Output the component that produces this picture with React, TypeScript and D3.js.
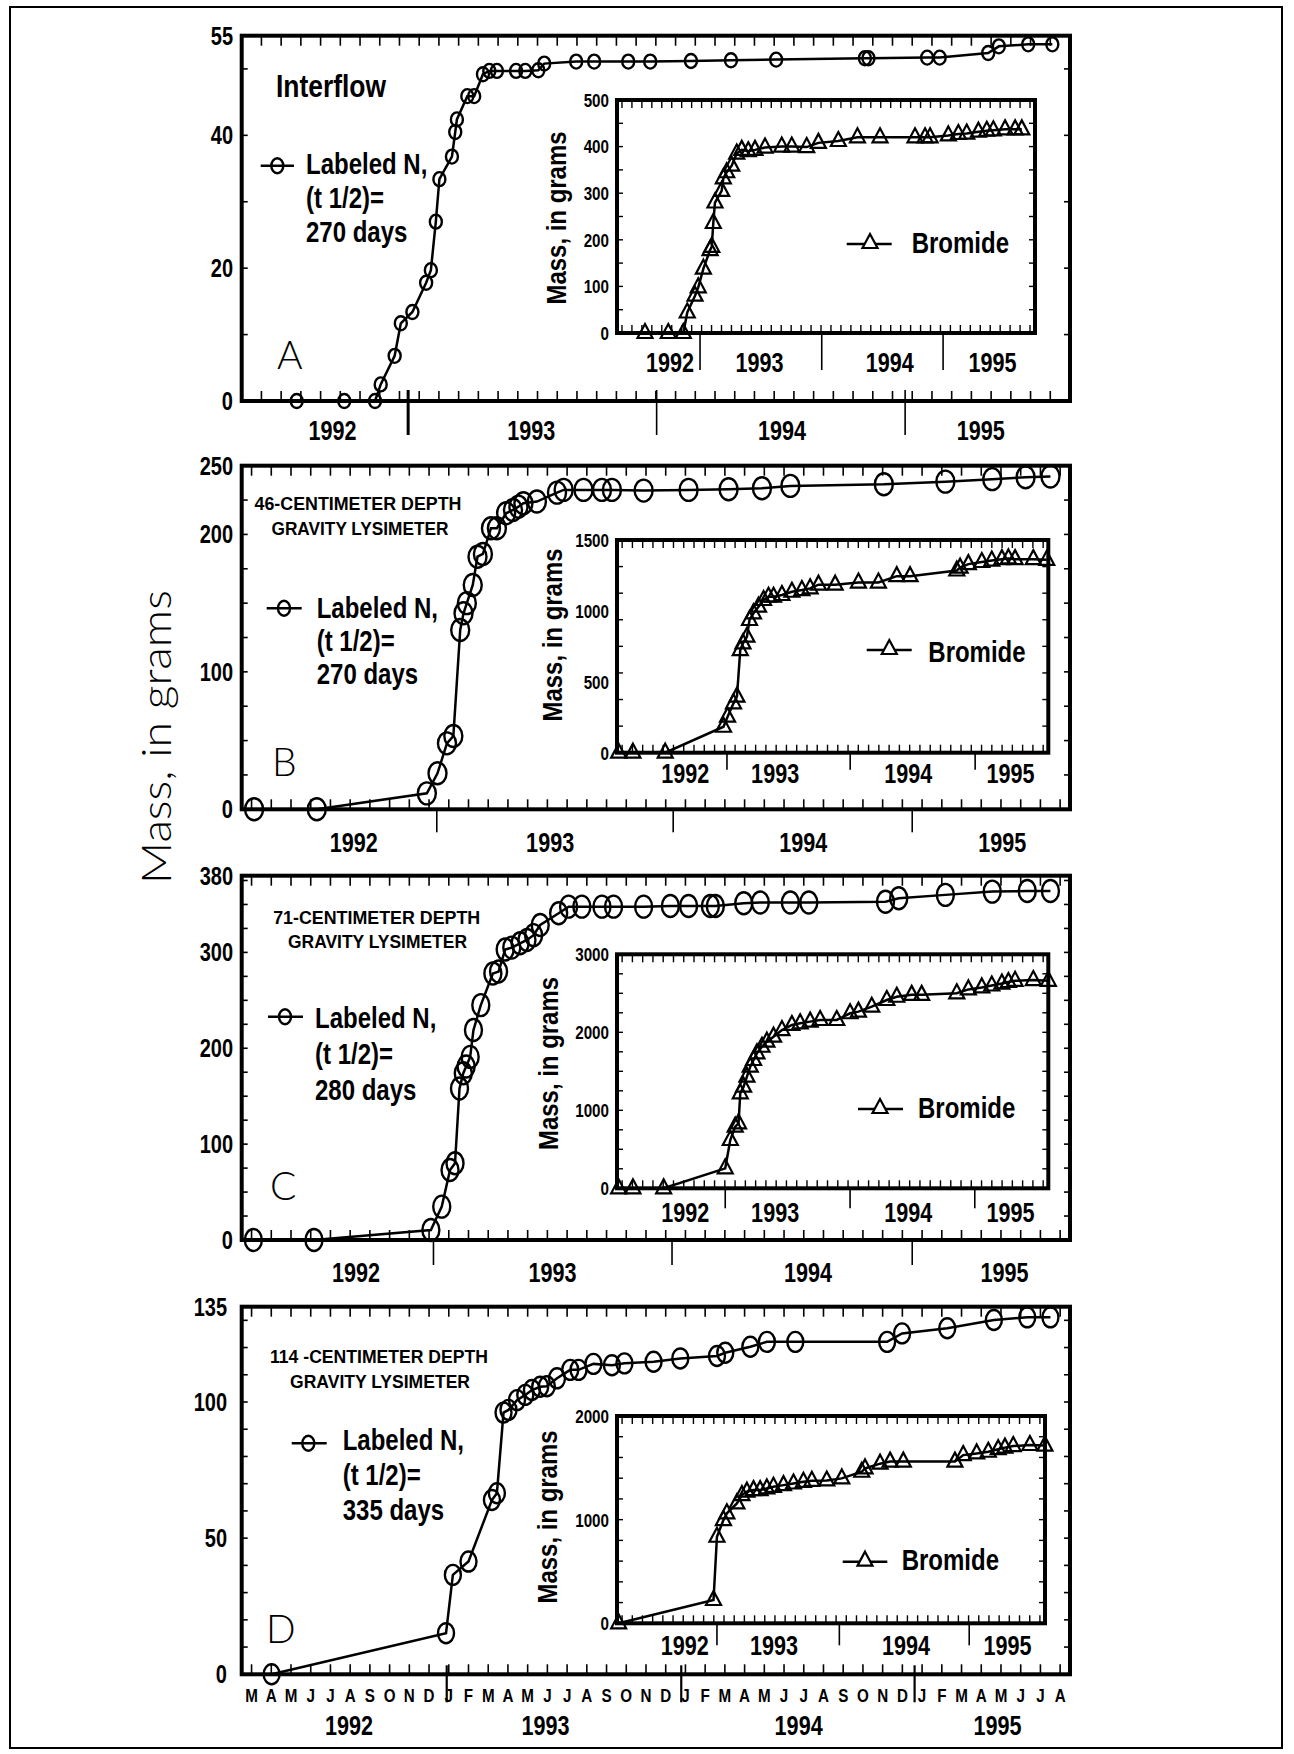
import React from "react"
import * as d3 from "d3"

// month initials along the bottom of panel D (Mar 1992 - Aug 1995)
const MONTH_LABELS = [
  "M", "A", "M", "J", "J", "A", "S", "O", "N", "D",
  "J", "F", "M", "A", "M", "J", "J", "A", "S", "O", "N", "D",
  "J", "F", "M", "A", "M", "J", "J", "A", "S", "O", "N", "D",
  "J", "F", "M", "A", "M", "J", "J", "A"
]
const YEAR_LABELS = ["1992", "1993", "1994", "1995"]

// [decimal year, grams]  -- labeled nitrogen (main plots)
const interflowN: [number, number][] = [
  [1992.399, 0], [1992.60, 0], [1992.73, 0], [1992.754, 2.5], [1992.813, 6.8], [1992.839, 11.7],
  [1992.888, 13.4], [1992.946, 17.8], [1992.966, 19.7], [1992.987, 27], [1993.002, 33.4],
  [1993.055, 36.8], [1993.069, 40.5], [1993.076, 42.4], [1993.12, 45.9], [1993.149, 45.9],
  [1993.186, 49.2], [1993.213, 49.7], [1993.245, 49.7], [1993.326, 49.7], [1993.365, 49.7],
  [1993.42, 49.8], [1993.445, 50.8], [1993.58, 51.1], [1993.656, 51.1], [1993.80, 51.1],
  [1993.893, 51.1], [1994.065, 51.2], [1994.234, 51.3], [1994.425, 51.4], [1994.80, 51.6],
  [1994.815, 51.6], [1995.063, 51.7], [1995.116, 51.7], [1995.321, 52.4], [1995.366, 53.4],
  [1995.49, 53.7], [1995.592, 53.7]
]
const lys46N: [number, number][] = [
  [1992.219, 0], [1992.484, 0], [1992.949, 11.6], [1992.994, 26.2], [1993.034, 48], [1993.061, 53.3],
  [1993.09, 130.5], [1993.104, 142.6], [1993.118, 150], [1993.143, 163.2], [1993.163, 183.8],
  [1993.186, 185.8], [1993.22, 204.5], [1993.245, 204.5], [1993.284, 215.4], [1993.313, 217.8],
  [1993.336, 220.2], [1993.357, 222.7], [1993.414, 223.9], [1993.499, 230.4], [1993.527, 232.4],
  [1993.611, 232.4], [1993.689, 232.4], [1993.731, 232.4], [1993.865, 231.9], [1994.055, 232.4],
  [1994.224, 232.9], [1994.365, 233.6], [1994.485, 235.3], [1994.88, 236.5], [1995.14, 238.4],
  [1995.338, 240.2], [1995.479, 241.6], [1995.584, 242.1]
]
const lys71N: [number, number][] = [
  [1992.216, 0], [1992.472, 0], [1992.966, 10.4], [1993.012, 34.8], [1993.047, 73], [1993.068, 80],
  [1993.087, 158], [1993.103, 174], [1993.115, 181], [1993.132, 191], [1993.146, 219],
  [1993.177, 245], [1993.228, 278], [1993.252, 280], [1993.28, 303], [1993.308, 305],
  [1993.343, 309.5], [1993.372, 313], [1993.4, 318], [1993.428, 328.6], [1993.506, 340.8],
  [1993.548, 347.7], [1993.604, 347.7], [1993.689, 347.7], [1993.738, 347.7], [1993.865, 347.7],
  [1993.978, 348.4], [1994.055, 348.4], [1994.147, 348.4], [1994.168, 348.4], [1994.288, 351.2],
  [1994.358, 352], [1994.485, 352], [1994.563, 352], [1994.887, 352.9], [1994.943, 356.4],
  [1995.14, 360], [1995.338, 363.4], [1995.486, 364], [1995.584, 364]
]
const lys114N: [number, number][] = [
  [1992.293, 0], [1993.03, 15.1], [1993.059, 36.5], [1993.125, 41.4], [1993.224, 64], [1993.245, 66.5],
  [1993.273, 96.1], [1993.294, 97.1], [1993.33, 100.7], [1993.365, 102.6], [1993.393, 104.4],
  [1993.428, 105.6], [1993.456, 105.8], [1993.499, 108.7], [1993.555, 111.8], [1993.59, 111.8],
  [1993.653, 114], [1993.731, 113.5], [1993.784, 114.2], [1993.907, 114.8], [1994.02, 116],
  [1994.175, 116.9], [1994.21, 118.1], [1994.316, 120.3], [1994.386, 122.1], [1994.506, 122.1],
  [1994.894, 122.1], [1994.957, 125.2], [1995.148, 127.1], [1995.345, 130.1], [1995.486, 131.1],
  [1995.584, 131.1]
]

// [decimal year, grams]  -- bromide (insets)
const interflowBr: [number, number][] = [
  [1992.401, 0], [1992.596, 0], [1992.722, 0], [1992.755, 44], [1992.82, 80], [1992.847, 98],
  [1992.89, 138], [1992.946, 178], [1992.96, 185], [1992.973, 236], [1992.987, 280], [1993.043, 305],
  [1993.057, 332], [1993.085, 345], [1993.127, 359], [1993.169, 385], [1993.211, 393], [1993.266, 390],
  [1993.322, 393], [1993.406, 398], [1993.546, 400], [1993.63, 400], [1993.755, 399], [1993.853, 408],
  [1994.02, 412], [1994.18, 420], [1994.369, 420], [1994.662, 420], [1994.746, 420], [1994.788, 420],
  [1994.941, 424], [1995.025, 427], [1995.095, 428], [1995.193, 432], [1995.263, 434], [1995.318, 435],
  [1995.416, 437], [1995.5, 437], [1995.556, 437]
]
const lys46Br: [number, number][] = [
  [1992.18, 0], [1992.296, 0], [1992.558, 0], [1993.031, 183], [1993.064, 254], [1993.112, 348],
  [1993.14, 395], [1993.167, 724], [1993.189, 771], [1993.221, 818], [1993.242, 936], [1993.274, 983],
  [1993.315, 1030], [1993.356, 1077], [1993.396, 1100], [1993.437, 1100], [1993.505, 1112],
  [1993.586, 1135], [1993.667, 1147], [1993.734, 1159], [1993.802, 1185], [1993.937, 1185],
  [1994.126, 1200], [1994.288, 1200], [1994.437, 1245], [1994.545, 1245], [1994.924, 1285],
  [1994.951, 1305], [1995.018, 1330], [1995.127, 1345], [1995.208, 1355], [1995.29, 1365],
  [1995.343, 1370], [1995.397, 1365], [1995.545, 1365], [1995.654, 1360]
]
const lys71Br: [number, number][] = [
  [1992.18, 0], [1992.296, 0], [1992.545, 0], [1993.045, 256], [1993.086, 619], [1993.126, 790],
  [1993.153, 833], [1993.167, 1218], [1993.194, 1303], [1993.221, 1431], [1993.248, 1559],
  [1993.275, 1645], [1993.302, 1731], [1993.343, 1815], [1993.383, 1880], [1993.437, 1944],
  [1993.505, 2029], [1993.586, 2094], [1993.653, 2115], [1993.734, 2137], [1993.815, 2158],
  [1993.95, 2158], [1994.058, 2244], [1994.126, 2265], [1994.234, 2328], [1994.356, 2414],
  [1994.437, 2456], [1994.558, 2480], [1994.639, 2480], [1994.924, 2500], [1995.018, 2550],
  [1995.127, 2575], [1995.208, 2600], [1995.29, 2625], [1995.343, 2645], [1995.397, 2660],
  [1995.545, 2670], [1995.667, 2660]
]
const lys114Br: [number, number][] = [
  [1992.18, 0], [1992.956, 225], [1992.984, 835], [1993.037, 996], [1993.065, 1061], [1993.147, 1157],
  [1993.188, 1237], [1993.229, 1270], [1993.283, 1285], [1993.337, 1285], [1993.392, 1301],
  [1993.446, 1317], [1993.528, 1333], [1993.61, 1349], [1993.691, 1365], [1993.76, 1375],
  [1993.882, 1378], [1994.005, 1398], [1994.168, 1462], [1994.195, 1494], [1994.318, 1540],
  [1994.4, 1560], [1994.508, 1560], [1994.93, 1560], [1994.998, 1623], [1995.108, 1639],
  [1995.203, 1655], [1995.284, 1680], [1995.339, 1695], [1995.407, 1710], [1995.543, 1720],
  [1995.666, 1715]
]

const yTicksA = [0, 20, 40, 55]
const yTicksB = [0, 100, 200, 250]
const yTicksC = [0, 100, 200, 300, 380]
const yTicksD = [0, 50, 100, 135]
const insetTicksA = [0, 100, 200, 300, 400, 500]
const insetTicksB = [0, 500, 1000, 1500]
const insetTicksC = [0, 1000, 2000, 3000]
const insetTicksD = [0, 1000, 2000]

const BOLD = "'Liberation Sans', Arial, Helvetica, sans-serif"
const THIN = "Lato, 'Open Sans', sans-serif"

const X0 = 1992 + 2 / 12
const X1 = 1995 + 8 / 12
const XL = 241.7
const XR = 1070
const INSET_L = 617

const legendLines = (days: string) => ["Labeled N,", "(t 1/2)=", days]

// condensed bold text: squeeze horizontally around its anchor point
function NT({ x, y, size, anchor = "start", dy, children }: any) {
  return (
    <text transform={`translate(${x},${y}) scale(0.8,1)`} textAnchor={anchor} dy={dy}
      fontFamily={BOLD} fontWeight="bold" fontSize={size}>{children}</text>
  )
}

const PANELS = [
  {
    N: interflowN, Br: interflowBr, top: 35.7, bottom: 401, yMax: 55, yTicks: yTicksA, yStep: 10,
    tickX: 233, mr: [6, 7], monthShift: 0, seps: [1992.87, 1993.92, 1994.97], sepW: [3, 1.6, 1.6],
    sepSpan: [-11, 34], years: [1992.55, 1993.39, 1994.45, 1995.29], yearY: 440,
    letter: { t: "A", x: 277, y: 369 },
    heading: [{ t: "Interflow", x: 276, y: 97, size: 32, anchor: "start", len: 110 }],
    legend: { x1: 260.7, x2: 294, cx: 277.3, y: 165.7, tx: 306, lines: legendLines("270 days"), base: [174, 208, 242] },
    inset: {
      right: 1035, top: 100, bottom: 333, yMax: 500, yTicks: insetTicksA, yStep: 50,
      seps: [1992.862, 1993.881, 1994.897], sepLen: 37, years: [1992.61, 1993.36, 1994.45, 1995.31], yearY: 372,
      ylabX: 566, ylabY: 218, legend: { x1: 846.7, x2: 891.7, cx: 870, y: 244, tx: 911.7, ty: 253 }
    }
  },
  {
    N: lys46N, Br: lys46Br, top: 465.7, bottom: 809.3, yMax: 250, yTicks: yTicksB, yStep: 25,
    tickX: 233, mr: [9, 11], monthShift: 0.5, seps: [1992.991, 1993.99, 1995.0], sepW: [1.6, 1.6, 1.6],
    sepSpan: [0, 23], years: [1992.64, 1993.47, 1994.54, 1995.38], yearY: 852,
    letter: { t: "B", x: 272, y: 776 },
    heading: [
      { t: "46-CENTIMETER DEPTH", x: 358, y: 510, size: 19, anchor: "middle", len: 207 },
      { t: "GRAVITY LYSIMETER", x: 360, y: 535, size: 19, anchor: "middle", len: 177 }
    ],
    legend: { x1: 266.7, x2: 301.7, cx: 284, y: 608.3, tx: 316.7, lines: legendLines("270 days"), base: [618, 651, 684] },
    inset: {
      right: 1048.3, top: 540, bottom: 752.7, yMax: 1500, yTicks: insetTicksB, yStep: 187.5,
      seps: [1993.059, 1994.059, 1995.073], sepLen: 17, years: [1992.72, 1993.45, 1994.53, 1995.36], yearY: 783,
      ylabX: 561.5, ylabY: 635, legend: { x1: 866.7, x2: 911.7, cx: 889.3, y: 650, tx: 928.3, ty: 661.7 }
    }
  },
  {
    N: lys71N, Br: lys71Br, top: 875.7, bottom: 1240, yMax: 380, yTicks: yTicksC, yStep: 25,
    tickX: 233, mr: [8.5, 11], monthShift: 0.5, seps: [1992.977, 1993.985, 1995.0], sepW: [1.6, 1.6, 1.6],
    sepSpan: [0, 25], years: [1992.65, 1993.48, 1994.56, 1995.39], yearY: 1282,
    letter: { t: "C", x: 270, y: 1200 },
    heading: [
      { t: "71-CENTIMETER DEPTH", x: 376.7, y: 924, size: 19, anchor: "middle", len: 207 },
      { t: "GRAVITY LYSIMETER", x: 377.5, y: 948.3, size: 19, anchor: "middle", len: 179 }
    ],
    legend: { x1: 268, x2: 303, cx: 285, y: 1016.7, tx: 315, lines: legendLines("280 days"), base: [1028, 1064, 1100] },
    inset: {
      right: 1048.3, top: 954.3, bottom: 1188.3, yMax: 3000, yTicks: insetTicksC, yStep: 250,
      seps: [1993.045, 1994.058, 1995.07], sepLen: 20, years: [1992.72, 1993.45, 1994.53, 1995.36], yearY: 1222,
      ylabX: 558, ylabY: 1063.5, legend: { x1: 858, x2: 903, cx: 880, y: 1109, tx: 918, ty: 1118.3 }
    }
  },
  {
    N: lys114N, Br: lys114Br, top: 1306.7, bottom: 1674.3, yMax: 135, yTicks: yTicksD, yStep: 10,
    tickX: 227, mr: [8, 10], monthShift: 0.5, seps: [1993.033, 1994.024, 1995.01], sepW: [2.2, 2.2, 2.2],
    sepSpan: [-9, 28], years: [1992.62, 1993.45, 1994.52, 1995.36], yearY: 1735,
    letter: { t: "D", x: 266, y: 1643 },
    heading: [
      { t: "114 -CENTIMETER DEPTH", x: 379, y: 1363, size: 19, anchor: "middle", len: 218 },
      { t: "GRAVITY LYSIMETER", x: 380, y: 1388, size: 19, anchor: "middle", len: 180 }
    ],
    legend: { x1: 291.7, x2: 326.7, cx: 308.3, y: 1443.3, tx: 342.7, lines: legendLines("335 days"), base: [1450, 1485, 1520] },
    inset: {
      right: 1045, top: 1416, bottom: 1623.3, yMax: 2000, yTicks: insetTicksD, yStep: 200,
      seps: [1992.984, 1993.985, 1995.047], sepLen: 22, years: [1992.72, 1993.45, 1994.53, 1995.36], yearY: 1655,
      ylabX: 556.7, ylabY: 1517, legend: { x1: 842.7, x2: 887.3, cx: 865, y: 1561.7, tx: 901.7, ty: 1570 }
    },
    months: true
  }
]

const tri = (cx: number, cy: number) => `M${cx},${cy - 9}L${cx + 7.5},${cy + 5}L${cx - 7.5},${cy + 5}Z`

function Panel({ p }: { p: any }) {
  const x = d3.scaleLinear().domain([X0, X1]).range([XL, XR])
  const y = d3.scaleLinear().domain([0, p.yMax]).range([p.bottom, p.top])
  const ins = p.inset
  const xi = d3.scaleLinear().domain([X0, X1]).range([INSET_L, ins.right])
  const yi = d3.scaleLinear().domain([0, ins.yMax]).range([ins.bottom, ins.top])
  const lineMain = d3.line<[number, number]>().x(d => x(d[0])).y(d => y(d[1]))
  const lineIns = d3.line<[number, number]>().x(d => xi(d[0])).y(d => yi(d[1]))

  const monthTicks = p.monthShift === 0
    ? d3.range(1, 42).map(i => X0 + i / 12)
    : d3.range(42).map(i => X0 + (i + 0.5) / 12)
  const insetMonths = d3.range(42).map(i => X0 + (i + 0.5) / 12)
  const minor = d3.range(0, p.yMax + 0.01, p.yStep)
  const insMinor = d3.range(0, ins.yMax + 0.01, ins.yStep)

  return (
    <g>
      {/* main plot ticks */}
      {monthTicks.map((m, i) => (
        <g key={"mt" + i} stroke="#000" strokeWidth={1.6}>
          <line x1={x(m)} x2={x(m)} y1={p.top} y2={p.top + 10} />
          <line x1={x(m)} x2={x(m)} y1={p.bottom} y2={p.bottom - 10} />
        </g>
      ))}
      {minor.map((v, i) => (
        <g key={"yt" + i} stroke="#000" strokeWidth={1.6}>
          <line x1={XL} x2={XL + 6} y1={y(v)} y2={y(v)} />
          <line x1={XR} x2={XR - 6} y1={y(v)} y2={y(v)} />
        </g>
      ))}
      {p.seps.map((s: number, i: number) => (
        <line key={"sp" + i} x1={x(s)} x2={x(s)} y1={p.bottom + p.sepSpan[0]} y2={p.bottom + p.sepSpan[1]}
          stroke="#000" strokeWidth={p.sepW[i]} />
      ))}
      <rect x={XL} y={p.top} width={XR - XL} height={p.bottom - p.top} fill="none" stroke="#000" strokeWidth={4} />

      {p.yTicks.map((v: number) => (
        <NT key={"yl" + v} x={p.tickX} y={y(v)} dy="0.36em" anchor="end" size={25}>{v}</NT>
      ))}
      {YEAR_LABELS.map((t, i) => (
        <NT key={"yr" + t} x={x(p.years[i])} y={p.yearY} anchor="middle" size={27}>{t}</NT>
      ))}
      {p.months && MONTH_LABELS.map((t, i) => (
        <NT key={"mo" + i} x={x(X0 + (i + 0.5) / 12)} y={p.bottom + 28} anchor="middle" size={19}>{t}</NT>
      ))}

      {/* labeled N series */}
      <path d={lineMain(p.N) || ""} fill="none" stroke="#000" strokeWidth={2.5} />
      {p.N.map((d: [number, number], i: number) => (
        <ellipse key={"c" + i} cx={x(d[0])} cy={y(d[1])} rx={p.mr[0]} ry={p.mr[1]} fill="none"
          stroke="#000" strokeWidth={2.4} />
      ))}

      {/* texts */}
      <text x={p.letter.x} y={p.letter.y} fontFamily={THIN} fontWeight={300} fontSize={39}>{p.letter.t}</text>
      {p.heading.map((h: any, i: number) => (
        <text key={"h" + i} x={h.x} y={h.y} textAnchor={h.anchor} fontFamily={BOLD} fontWeight="bold"
          fontSize={h.size} textLength={h.len} lengthAdjust="spacingAndGlyphs">{h.t}</text>
      ))}
      <line x1={p.legend.x1} x2={p.legend.x2} y1={p.legend.y} y2={p.legend.y} stroke="#000" strokeWidth={2.5} />
      <ellipse cx={p.legend.cx} cy={p.legend.y} rx={6} ry={7.5} fill="none" stroke="#000" strokeWidth={2.4} />
      {p.legend.lines.map((t: string, i: number) => (
        <NT key={"lg" + i} x={p.legend.tx} y={p.legend.base[i]} size={30}>{t}</NT>
      ))}

      {/* inset: bromide */}
      <rect x={INSET_L} y={ins.top} width={ins.right - INSET_L} height={ins.bottom - ins.top} fill="#fff" />
      {insetMonths.map((m, i) => (
        <g key={"imt" + i} stroke="#000" strokeWidth={1.4}>
          <line x1={xi(m)} x2={xi(m)} y1={ins.top} y2={ins.top + 8} />
          <line x1={xi(m)} x2={xi(m)} y1={ins.bottom} y2={ins.bottom - 8} />
        </g>
      ))}
      {insMinor.map((v, i) => (
        <g key={"iyt" + i} stroke="#000" strokeWidth={1.4}>
          <line x1={INSET_L} x2={INSET_L + 6} y1={yi(v)} y2={yi(v)} />
          <line x1={ins.right} x2={ins.right - 6} y1={yi(v)} y2={yi(v)} />
        </g>
      ))}
      {ins.seps.map((s: number, i: number) => (
        <line key={"isp" + i} x1={xi(s)} x2={xi(s)} y1={ins.bottom} y2={ins.bottom + ins.sepLen}
          stroke="#000" strokeWidth={1.6} />
      ))}
      <path d={lineIns(p.Br) || ""} fill="none" stroke="#000" strokeWidth={2.5} />
      {p.Br.map((d: [number, number], i: number) => (
        <path key={"t" + i} d={tri(xi(d[0]), yi(d[1]))} fill="none" stroke="#000" strokeWidth={2.2} />
      ))}
      <rect x={INSET_L} y={ins.top} width={ins.right - INSET_L} height={ins.bottom - ins.top} fill="none"
        stroke="#000" strokeWidth={4} />
      {ins.yTicks.map((v: number) => (
        <NT key={"iyl" + v} x={INSET_L - 8} y={yi(v)} dy="0.36em" anchor="end" size={19}>{v}</NT>
      ))}
      {YEAR_LABELS.map((t, i) => (
        <NT key={"iyr" + t} x={xi(ins.years[i])} y={ins.yearY} anchor="middle" size={27}>{t}</NT>
      ))}
      <text transform={`translate(${ins.ylabX},${ins.ylabY}) rotate(-90)`} textAnchor="middle" fontFamily={BOLD}
        fontWeight="bold" fontSize={28} textLength={173} lengthAdjust="spacingAndGlyphs">Mass, in grams</text>
      <line x1={ins.legend.x1} x2={ins.legend.x2} y1={ins.legend.y} y2={ins.legend.y} stroke="#000" strokeWidth={2.5} />
      <path d={tri(ins.legend.cx, ins.legend.y - 1)} fill="#fff" stroke="#000" strokeWidth={2.2} />
      <NT x={ins.legend.tx} y={ins.legend.ty} size={30}>Bromide</NT>
    </g>
  )
}

export default function App() {
  return (
    <svg width={1294} height={1754} style={{ position: "absolute", left: 0, top: 0, background: "#fff" }}>
      <rect x={0} y={0} width={1294} height={1754} fill="#fff" />
      <rect x={10} y={7} width={1272} height={1741} fill="none" stroke="#000" strokeWidth={2} />
      {PANELS.map((p, i) => <Panel key={i} p={p} />)}
      <text transform="translate(171,737) rotate(-90)" textAnchor="middle" fontFamily={THIN} fontWeight={300}
        fontSize={42} textLength={294} lengthAdjust="spacingAndGlyphs">Mass, in grams</text>
    </svg>
  )
}
